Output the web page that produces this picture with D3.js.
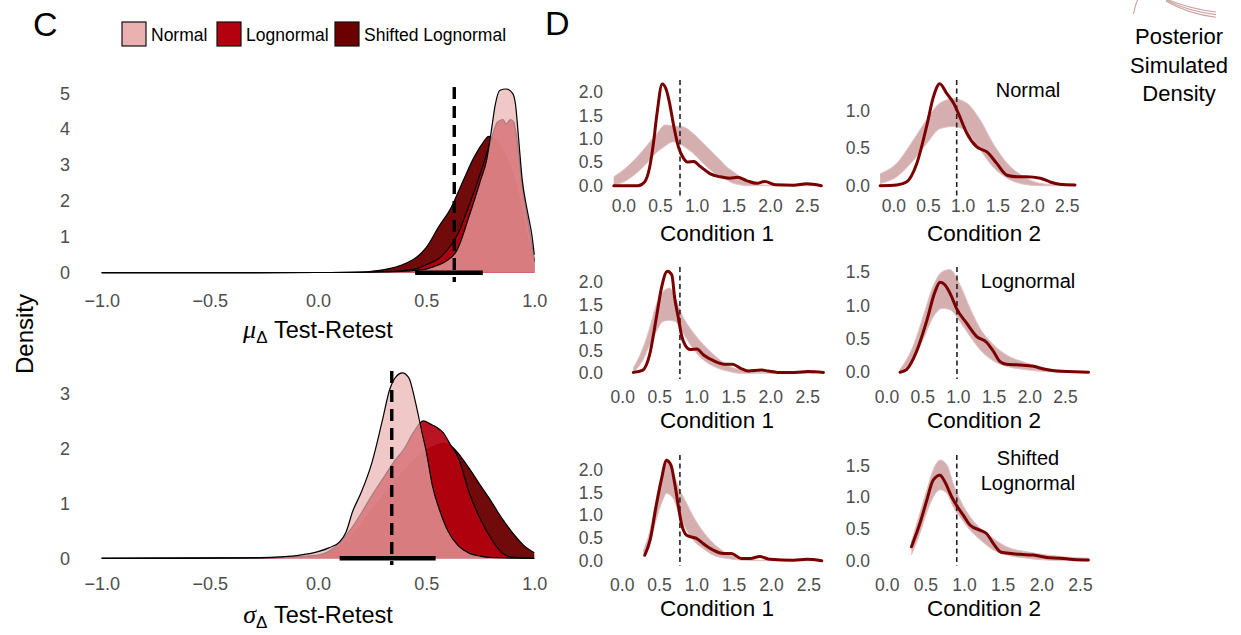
<!DOCTYPE html>
<html>
<head>
<meta charset="utf-8">
<script src="https://cdn.jsdelivr.net/npm/d3@7"></script>
<style>
  body { margin: 0; background: #fff; }
  svg { font-family: "Liberation Sans", Arial, sans-serif; }
</style>
</head>
<body>
<svg id="chart" width="1241" height="635"></svg>
<script>
// ---- panel C: posterior densities of test-retest correlation ----
const models = ["Normal", "Lognormal", "Shifted Lognormal"];

// mu_delta test-retest  [value, density]
const muNormal = [[-1,0],[-0.5,0],[0,0.005],[0.2,0.01],[0.3,0.02],[0.4,0.04],[0.5,0.1],[0.55,0.2],[0.6,0.35],[0.64,0.6],[0.7,1.6],[0.75,2.55],[0.78,3.15],[0.8,3.9],[0.82,4.7],[0.84,5.08],[0.87,5.12],[0.9,5.0],[0.913,4.7],[0.928,3.7],[0.944,2.6],[0.967,1.75],[0.99,1.0],[1.0,0.5]];
const muLognormal = [[-1,0],[-0.5,0],[0,0.005],[0.2,0.01],[0.3,0.03],[0.4,0.06],[0.46,0.12],[0.5,0.22],[0.56,0.4],[0.6,0.65],[0.64,1.0],[0.7,1.9],[0.75,2.75],[0.8,3.7],[0.83,4.2],[0.855,4.27],[0.87,4.15],[0.89,4.27],[0.905,4.2],[0.92,3.7],[0.94,2.6],[0.96,1.8],[0.98,1.1],[1.0,0.35]];
const muShifted = [[-1,0],[-0.5,0],[0,0.005],[0.2,0.02],[0.26,0.05],[0.3,0.08],[0.38,0.2],[0.46,0.45],[0.5,0.7],[0.56,1.3],[0.61,1.75],[0.67,2.55],[0.72,3.2],[0.76,3.6],[0.79,3.8],[0.82,3.7],[0.86,3.35],[0.9,2.8],[0.93,2.1],[0.96,1.2],[0.98,0.7],[1.0,0.3]];
const muInterval = [0.449, 0.762];
const muRef = 0.63;

// sigma_delta test-retest
const sigNormal = [[-1,0],[-0.6,0.003],[-0.3,0.01],[-0.2,0.02],[-0.1,0.05],[0,0.12],[0.05,0.19],[0.1,0.3],[0.13,0.48],[0.16,0.85],[0.2,1.2],[0.25,1.75],[0.3,2.55],[0.33,3.05],[0.36,3.3],[0.39,3.37],[0.42,3.28],[0.45,2.85],[0.48,2.3],[0.5,1.95],[0.53,1.3],[0.56,0.9],[0.6,0.5],[0.65,0.22],[0.7,0.09],[0.75,0.04],[0.8,0.015],[0.9,0.003],[1.0,0]];
const sigLognormal = [[-1,0],[-0.5,0.003],[-0.2,0.015],[0,0.06],[0.05,0.13],[0.1,0.28],[0.15,0.52],[0.2,0.82],[0.25,1.15],[0.3,1.45],[0.35,1.75],[0.4,2.0],[0.44,2.28],[0.487,2.5],[0.52,2.44],[0.55,2.38],[0.58,2.28],[0.61,2.08],[0.65,1.82],[0.7,1.18],[0.75,0.72],[0.8,0.36],[0.85,0.1],[0.9,0.02],[1.0,0]];
const sigShifted = [[-1,0],[-0.5,0.003],[-0.2,0.012],[0,0.05],[0.05,0.11],[0.1,0.22],[0.15,0.4],[0.2,0.62],[0.25,0.88],[0.3,1.13],[0.35,1.38],[0.4,1.6],[0.45,1.8],[0.5,1.96],[0.55,2.06],[0.58,2.09],[0.62,2.03],[0.66,1.85],[0.7,1.63],[0.75,1.33],[0.8,1.04],[0.85,0.73],[0.9,0.46],[0.95,0.24],[1.0,0.1]];
const sigInterval = [0.10, 0.544];
const sigRef = 0.341;

const cXTicks = [-1, -0.5, 0, 0.5, 1];
const muYTicks = [0, 1, 2, 3, 4, 5];
const sigYTicks = [0, 1, 2, 3];

// ---- panel D: observed density vs posterior simulated densities ----
// observed [rt, density]
const obsR1C1 = [[-0.13,0],[0.2,0],[0.29,0.08],[0.36,0.4],[0.41,0.9],[0.46,1.55],[0.53,2.18],[0.58,2.08],[0.62,1.85],[0.69,1.26],[0.75,0.84],[0.82,0.59],[0.87,0.51],[0.96,0.52],[1.05,0.41],[1.18,0.26],[1.32,0.19],[1.45,0.16],[1.56,0.18],[1.68,0.11],[1.82,0.05],[1.93,0.09],[2.07,0.02],[2.32,0.01],[2.5,0.04],[2.7,0]];
const obsR1C2 = [[-0.19,0],[0.05,0.01],[0.19,0.05],[0.34,0.3],[0.48,0.79],[0.58,1.19],[0.67,1.36],[0.77,1.23],[0.87,1.1],[0.94,0.96],[1.06,0.7],[1.2,0.52],[1.35,0.45],[1.49,0.3],[1.64,0.14],[1.78,0.12],[1.92,0.12],[2.12,0.1],[2.26,0.05],[2.4,0.02],[2.62,0.01]];
const obsR2C1 = [[0.15,0.02],[0.28,0.07],[0.37,0.4],[0.46,1.2],[0.53,1.86],[0.61,2.23],[0.67,2.15],[0.71,1.64],[0.76,1.2],[0.8,0.84],[0.85,0.62],[0.92,0.52],[1.01,0.53],[1.1,0.4],[1.24,0.27],[1.38,0.2],[1.49,0.2],[1.6,0.11],[1.7,0.05],[1.88,0.07],[1.97,0.05],[2.1,0.02],[2.33,0.02],[2.51,0.04],[2.72,0.02]];
const obsR2C2 = [[0.19,0],[0.28,0.04],[0.42,0.31],[0.56,0.76],[0.68,1.21],[0.75,1.35],[0.82,1.31],[0.91,1.14],[0.98,0.96],[1.12,0.74],[1.26,0.54],[1.4,0.45],[1.5,0.31],[1.59,0.16],[1.68,0.12],[1.87,0.11],[2.06,0.09],[2.2,0.05],[2.38,0.02],[2.62,0.01],[2.83,0]];
const obsR3C1 = [[0.31,0.12],[0.38,0.45],[0.46,1.19],[0.53,1.77],[0.6,2.2],[0.66,2.1],[0.71,1.7],[0.76,1.19],[0.8,0.82],[0.87,0.56],[0.96,0.51],[1.0,0.49],[1.09,0.38],[1.23,0.23],[1.36,0.16],[1.47,0.16],[1.6,0.05],[1.72,0.05],[1.85,0.09],[1.99,0.03],[2.3,0.01],[2.48,0.03],[2.68,0]];
const obsR3C2 = [[0.32,0.22],[0.43,0.59],[0.52,0.96],[0.6,1.27],[0.69,1.35],[0.75,1.25],[0.84,1.01],[0.9,0.88],[0.99,0.72],[1.08,0.56],[1.21,0.48],[1.29,0.43],[1.38,0.27],[1.47,0.14],[1.55,0.12],[1.72,0.1],[1.9,0.09],[2.07,0.05],[2.24,0.04],[2.41,0.02],[2.61,0.01]];

// posterior simulated densities, spread [rt, lowest, highest]
const simR1C1 = [[-0.13,0,0.19],[0.05,0.12,0.4],[0.27,0.4,0.76],[0.46,0.72,1.12],[0.57,0.85,1.3],[0.68,0.94,1.28],[0.77,0.9,1.27],[0.82,0.85,1.26],[0.95,0.7,1.12],[1.14,0.4,0.83],[1.32,0.19,0.55],[1.41,0.12,0.4],[1.5,0.05,0.3],[1.59,0.02,0.19],[1.68,0,0.1],[1.77,0,0.05],[1.95,0,0.01],[2.3,0,0.01],[2.7,0,0.005]];
const simR1C2 = [[-0.19,0.03,0.16],[0.05,0.12,0.3],[0.29,0.34,0.61],[0.48,0.56,0.88],[0.67,0.76,1.1],[0.87,0.79,1.16],[1.06,0.72,1.1],[1.25,0.48,0.88],[1.44,0.25,0.56],[1.64,0.1,0.3],[1.88,0.02,0.12],[2.12,0,0.03],[2.36,0,0.01],[2.62,0,0.005]];
const simR2C1 = [[0.15,0.02,0.11],[0.28,0.29,0.55],[0.37,0.62,0.98],[0.46,0.91,1.49],[0.55,1.13,1.78],[0.64,1.16,1.86],[0.72,1.13,1.64],[0.81,0.91,1.27],[0.95,0.55,0.91],[1.1,0.29,0.62],[1.24,0.15,0.4],[1.42,0.05,0.18],[1.6,0,0.07],[1.88,0,0.02],[2.6,0,0.005]];
const simR2C2 = [[0.19,0,0.04],[0.38,0.21,0.41],[0.52,0.51,0.86],[0.66,0.84,1.31],[0.78,0.96,1.51],[0.89,0.94,1.54],[1.03,0.76,1.31],[1.17,0.54,0.96],[1.31,0.34,0.66],[1.5,0.17,0.41],[1.68,0.09,0.26],[1.96,0.04,0.14],[2.24,0.01,0.06],[2.62,0,0.02]];
const simR3C1 = [[0.29,0.09,0.23],[0.38,0.38,0.67],[0.46,0.89,1.33],[0.55,1.33,1.99],[0.6,1.48,2.25],[0.69,1.37,1.92],[0.78,0.97,1.55],[0.87,0.67,1.26],[0.96,0.45,0.97],[1.09,0.27,0.64],[1.23,0.12,0.38],[1.41,0.05,0.16],[1.63,0.01,0.05],[1.85,0,0.01],[2.6,0,0.005]];
const simR3C2 = [[0.32,0.09,0.3],[0.43,0.43,0.75],[0.52,0.77,1.12],[0.63,1.06,1.51],[0.69,1.12,1.59],[0.78,1.06,1.51],[0.86,0.85,1.22],[0.95,0.69,0.96],[1.08,0.48,0.69],[1.21,0.33,0.51],[1.38,0.17,0.35],[1.55,0.09,0.22],[1.81,0.04,0.14],[2.07,0.01,0.09],[2.41,0,0.05],[2.61,0,0.04]];

// dashed reference (condition mean) per panel
const refD = [0.773, 0.914, 0.78, 0.987, 0.78, 0.906];
const conditions = ["Condition 1", "Condition 2"];
const dXTicks = [0, 0.5, 1, 1.5, 2, 2.5];
const dYTicksC1 = [0, 0.5, 1, 1.5, 2];
const dYTicksR1C2 = [0, 0.5, 1];
const dYTicksC2 = [0, 0.5, 1, 1.5];

// ---- styles ----
const modelFill = ["#ebb0b0", "#b4000f", "#6b0000"];
const modelOpacity = [0.7, 0.92, 0.96];
const tickGrey = "#4d4d4d";
const fmt1 = d3.format(".1f");

const svg = d3.select("#chart");

// panel letters
svg.append("text").attr("x", 33).attr("y", 36).attr("font-size", 34).text("C");
svg.append("text").attr("x", 545).attr("y", 35).attr("font-size", 34).text("D");

// legend
const legendX = [122, 217, 335];
const leg = svg.append("g");
models.forEach((m, i) => {
  leg.append("rect").attr("x", legendX[i]).attr("y", 22).attr("width", 24).attr("height", 24)
    .attr("fill", modelFill[i])
    .attr("stroke", "#111").attr("stroke-width", 1.2);
  leg.append("text").attr("x", legendX[i] + 29).attr("y", 40.5)
    .attr("font-size", 17.5).text(m);
});

// ---- C panels ----
const xC = d3.scaleLinear().domain([-1, 1]).range([101.7, 534.3]);

function densityPanel(series, y, yTicks, interval, ref, refTop, refBot, axisY) {
  const g = svg.append("g");
  const area = d3.area().x(d => xC(d[0])).y0(y(0)).y1(d => y(d[1])).curve(d3.curveMonotoneX);
  const line = d3.line().x(d => xC(d[0])).y(d => y(d[1])).curve(d3.curveMonotoneX);
  // draw shifted first, normal last
  [2, 1, 0].forEach(i => {
    g.append("path").datum(series[i]).attr("d", area)
      .attr("fill", modelFill[i]).attr("fill-opacity", modelOpacity[i]);
    g.append("path").datum(series[i]).attr("d", line)
      .attr("fill", "none").attr("stroke", "#000").attr("stroke-width", 1.2);
  });
  g.append("line").attr("x1", xC(interval[0])).attr("x2", xC(interval[1]))
    .attr("y1", y(0)).attr("y2", y(0)).attr("stroke", "#000").attr("stroke-width", 4.5);
  g.append("line").attr("x1", xC(ref)).attr("x2", xC(ref))
    .attr("y1", refTop).attr("y2", refBot).attr("stroke", "#000")
    .attr("stroke-width", 3.4).attr("stroke-dasharray", "12,7");

  const ax = g.append("g").attr("transform", `translate(0,${axisY})`)
    .call(d3.axisBottom(xC).tickValues(cXTicks).tickFormat(fmt1).tickSize(0).tickPadding(0));
  const ay = g.append("g").attr("transform", "translate(70,0)")
    .call(d3.axisLeft(y).tickValues(yTicks).tickFormat(d3.format("d")).tickSize(0).tickPadding(0));
  [ax, ay].forEach(a => {
    a.select(".domain").remove();
    a.selectAll("text").attr("font-size", 18).attr("fill", tickGrey)
      .attr("font-family", "Liberation Sans, Arial, sans-serif");
  });
  return g;
}

const yMu = d3.scaleLinear().domain([0, 5]).range([272.7, 93.3]);
densityPanel([muNormal, muLognormal, muShifted], yMu, muYTicks, muInterval, muRef, 87, 282, 294);
const ySig = d3.scaleLinear().domain([0, 3]).range([558.3, 393.3]);
densityPanel([sigNormal, sigLognormal, sigShifted], ySig, sigYTicks, sigInterval, sigRef, 371, 565, 577);

function greekTitle(letter, yBase) {
  const t = svg.append("text").attr("x", 318).attr("y", yBase)
    .attr("text-anchor", "middle").attr("font-size", 23.5);
  t.append("tspan").attr("font-family", "Liberation Serif, serif").attr("font-style", "italic")
    .attr("font-size", 26).text(letter);
  t.append("tspan").attr("font-size", 17).attr("dy", 5).text("Δ");
  t.append("tspan").attr("dy", -5).text(" Test-Retest");
}
greekTitle("μ", 338);
greekTitle("σ", 623);

svg.append("text").attr("transform", "translate(33,334) rotate(-90)")
  .attr("text-anchor", "middle").attr("font-size", 24).text("Density");

// ---- D panels ----
const dPanels = [
  { obs: obsR1C1, sim: simR1C1, xr: [623.3, 806.7], ymax: 2,   yr: [185.7, 92.3],  yt: dYTicksC1,   col: 0, row: 0 },
  { obs: obsR1C2, sim: simR1C2, xr: [893.3, 1066.7], ymax: 1,  yr: [185.7, 110.7], yt: dYTicksR1C2, col: 1, row: 0 },
  { obs: obsR2C1, sim: simR2C1, xr: [622.2, 807.2], ymax: 2,   yr: [373.3, 281.7], yt: dYTicksC1,   col: 0, row: 1 },
  { obs: obsR2C2, sim: simR2C2, xr: [886.5, 1065], ymax: 1.5,  yr: [372.3, 272.3], yt: dYTicksC2,   col: 1, row: 1 },
  { obs: obsR3C1, sim: simR3C1, xr: [621.7, 808.3], ymax: 2,   yr: [560.7, 469.7], yt: dYTicksC1,   col: 0, row: 2 },
  { obs: obsR3C2, sim: simR3C2, xr: [886.7, 1080], ymax: 1.5,  yr: [560.7, 465.7], yt: dYTicksC2,   col: 1, row: 2 }
];
const rowRef = [[80, 198], [267, 379], [455, 566]];
const rowTickBase = [199.5, 391, 578.5];
const rowTitleBase = [241, 427.5, 616];
const colTickRight = [603, 870];
const colTitleX = [717, 984];

dPanels.forEach((p, k) => {
  const g = svg.append("g");
  const x = d3.scaleLinear().domain([0, 2.5]).range(p.xr);
  const y = d3.scaleLinear().domain([0, p.ymax]).range(p.yr);

  const band = d3.area().x(d => x(d[0])).y0(d => y(d[1])).y1(d => y(d[2])).curve(d3.curveMonotoneX);
  g.append("path").datum(p.sim).attr("d", band)
    .attr("fill", "#c79494").attr("fill-opacity", 0.75);
  [1, 2].forEach(j => {
    g.append("path").datum(p.sim)
      .attr("d", d3.line().x(d => x(d[0])).y(d => y(d[j])).curve(d3.curveMonotoneX))
      .attr("fill", "none").attr("stroke", "#e0c2c2").attr("stroke-width", 1);
  });

  g.append("line").attr("x1", x(refD[k])).attr("x2", x(refD[k]))
    .attr("y1", rowRef[p.row][0]).attr("y2", rowRef[p.row][1])
    .attr("stroke", "#222").attr("stroke-width", 1.6).attr("stroke-dasharray", "5,3.5");

  g.append("path").datum(p.obs)
    .attr("d", d3.line().x(d => x(d[0])).y(d => y(d[1])).curve(d3.curveMonotoneX))
    .attr("fill", "none").attr("stroke", "#7a0000").attr("stroke-width", 3)
    .attr("stroke-linejoin", "round").attr("stroke-linecap", "round");

  const ax = g.append("g").attr("transform", `translate(0,${rowTickBase[p.row]})`)
    .call(d3.axisBottom(x).tickValues(dXTicks).tickFormat(fmt1).tickSize(0).tickPadding(0));
  const ay = g.append("g").attr("transform", `translate(${colTickRight[p.col]},0)`)
    .call(d3.axisLeft(y).tickValues(p.yt).tickFormat(fmt1).tickSize(0).tickPadding(0));
  [ax, ay].forEach(a => {
    a.select(".domain").remove();
    a.selectAll("text").attr("font-size", 17.5).attr("fill", tickGrey)
      .attr("font-family", "Liberation Sans, Arial, sans-serif");
  });

  svg.append("text").attr("x", colTitleX[p.col]).attr("y", rowTitleBase[p.row])
    .attr("text-anchor", "middle").attr("font-size", 22.5).text(conditions[p.col]);
});

// model labels in right column
svg.append("text").attr("x", 1028).attr("y", 97).attr("text-anchor", "middle")
  .attr("font-size", 20).text(models[0]);
svg.append("text").attr("x", 1028).attr("y", 288).attr("text-anchor", "middle")
  .attr("font-size", 20).text(models[1]);
const sl = svg.append("text").attr("text-anchor", "middle").attr("font-size", 20);
models[2].split(" ").forEach((w, i) => {
  sl.append("tspan").attr("x", 1028).attr("y", 465 + i * 25).text(w);
});

// posterior simulated density legend (key glyph cut by top edge)
const keyG = svg.append("g").attr("fill", "none").attr("stroke", "#c9a0a0").attr("stroke-width", 1.1);
keyG.append("path").attr("d", "M1133.5,14 C1134.5,8 1136,3 1138,-1");
[0, 2.6, 5.2].forEach(o => {
  keyG.append("path").attr("d", `M1166,${-1 + o * 0.4} C1183,${6 + o} 1198,${10 + o} 1216,${12 + o}`);
});
const keyT = svg.append("text").attr("text-anchor", "middle").attr("font-size", 22);
["Posterior", "Simulated", "Density"].forEach((w, i) => {
  keyT.append("tspan").attr("x", 1179).attr("y", 44 + i * 28.5).text(w);
});
</script>
</body>
</html>
